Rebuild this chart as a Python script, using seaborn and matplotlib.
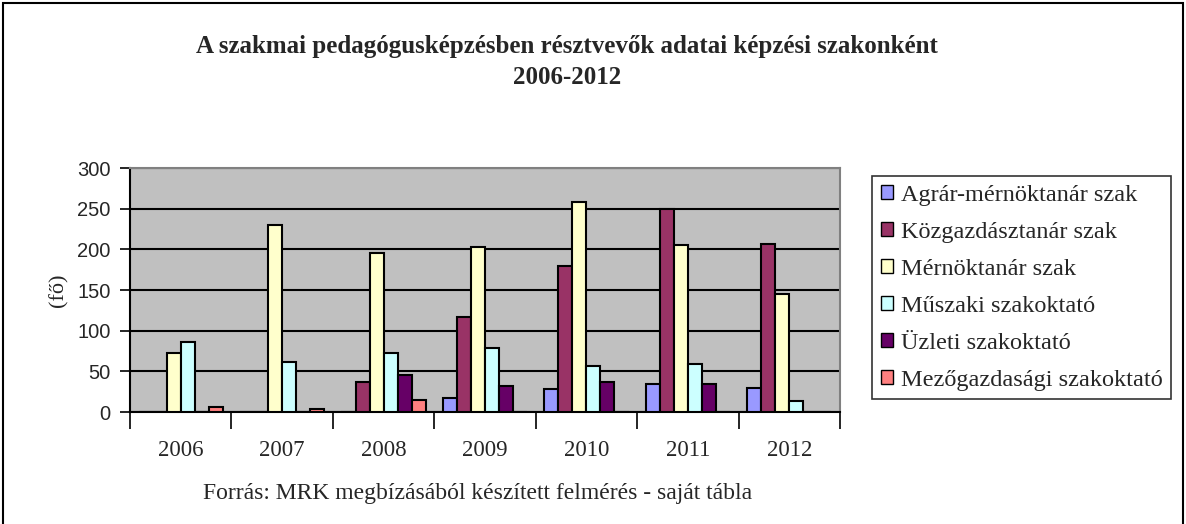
import matplotlib
matplotlib.use("Agg")
import matplotlib.pyplot as plt
import seaborn as sns
import pandas as pd
from matplotlib.patches import Rectangle, Patch

years = ["2006", "2007", "2008", "2009", "2010", "2011", "2012"]
series_names = ["Agrár-mérnöktanár szak", "Közgazdásztanár szak", "Mérnöktanár szak",
                "Műszaki szakoktató", "Üzleti szakoktató", "Mezőgazdasági szakoktató"]
agrar = [0, 0, 0, 17, 28, 35, 30]
kozgazd = [0, 0, 37, 117, 179, 250, 207]
mernok = [73, 230, 196, 203, 258, 205, 145]
muszaki = [86, 61, 73, 79, 57, 59, 13]
uzleti = [0, 0, 46, 32, 37, 35, 0]
mezogazd = [6, 4, 15, 0, 0, 0, 0]
colors = ["#9999FF", "#993366", "#FFFFCC", "#CCFFFF", "#660066", "#FF8080"]

values = [agrar, kozgazd, mernok, muszaki, uzleti, mezogazd]
rows = []
for name, vals in zip(series_names, values):
    for y, v in zip(years, vals):
        rows.append({"year": y, "series": name, "value": v})
df = pd.DataFrame(rows)

sns.set_style("white")
plt.rcParams["font.family"] = ["Liberation Serif", "DejaVu Serif"]

fig = plt.figure(figsize=(11.86, 5.24), dpi=100)
ax = fig.add_axes([130 / 1186, 1 - 412 / 524, 710 / 1186, 244 / 524])
ax.set_facecolor("#C0C0C0")

sns.barplot(data=df, x="year", y="value", hue="series", order=years, hue_order=series_names,
            palette=colors, width=0.83, edgecolor="black", linewidth=1.5, ax=ax,
            legend=False, saturation=1, errorbar=None, zorder=3)

ax.set_ylim(0, 300)
ax.set_yticks(range(0, 301, 50))
ax.yaxis.grid(True, color="black", linewidth=1.5, zorder=1)
ax.set_axisbelow(True)
ax.set_xlim(-0.5, 6.5)
ax.set_xticks([i - 0.5 for i in range(8)])
ax.set_xticklabels([""] * 8)
ax.set_xticks(range(7), minor=True)
ax.set_xticklabels(years, minor=True, fontsize=16.5)
ax.tick_params(axis="x", which="major", length=12, width=1.2, color="black", direction="out", bottom=True)
ax.tick_params(axis="x", which="minor", length=0, pad=20)
ax.tick_params(axis="y", length=7, width=1.2, color="black", direction="out", left=True,
               labelsize=14.5, pad=7)
for lab in ax.get_yticklabels():
    lab.set_fontfamily("Liberation Sans")
ax.set_xlabel("")
ax.set_ylabel("(fő)", fontsize=16, labelpad=6)
for s in ["top", "right"]:
    ax.spines[s].set_color("#808080")
    ax.spines[s].set_linewidth(1.5)
for s in ["left", "bottom"]:
    ax.spines[s].set_color("black")
    ax.spines[s].set_linewidth(1.5)

handles = [Patch(facecolor=c, edgecolor="black", linewidth=1) for c in colors]
leg = fig.legend(handles, series_names, loc="upper left",
                 bbox_to_anchor=(872 / 1186, 1 - 176 / 524), fontsize=17.5,
                 frameon=True, fancybox=False, edgecolor="black", borderaxespad=0,
                 handlelength=0.5, handleheight=0.5, handletextpad=0.35,
                 labelspacing=0.66, borderpad=0.35)
leg.get_frame().set_linewidth(1.2)

fig.text(567 / 1186, 1 - 47 / 524, "A szakmai pedagógusképzésben résztvevők adatai képzési szakonként",
         ha="center", va="center", fontsize=18, fontweight="bold")
fig.text(567 / 1186, 1 - 78 / 524, "2006-2012", ha="center", va="center", fontsize=18, fontweight="bold")
fig.text(478 / 1186, 1 - 494 / 524, "Forrás: MRK megbízásából készített felmérés - saját tábla",
         ha="center", va="center", fontsize=17)

fig.patches.append(Rectangle((3 / 1186, -0.05), 1180 / 1186, 1.05 - 3 / 524,
                             transform=fig.transFigure, fill=False, edgecolor="black",
                             linewidth=1.5))

fig.savefig("out.png", dpi=100, facecolor="white")
